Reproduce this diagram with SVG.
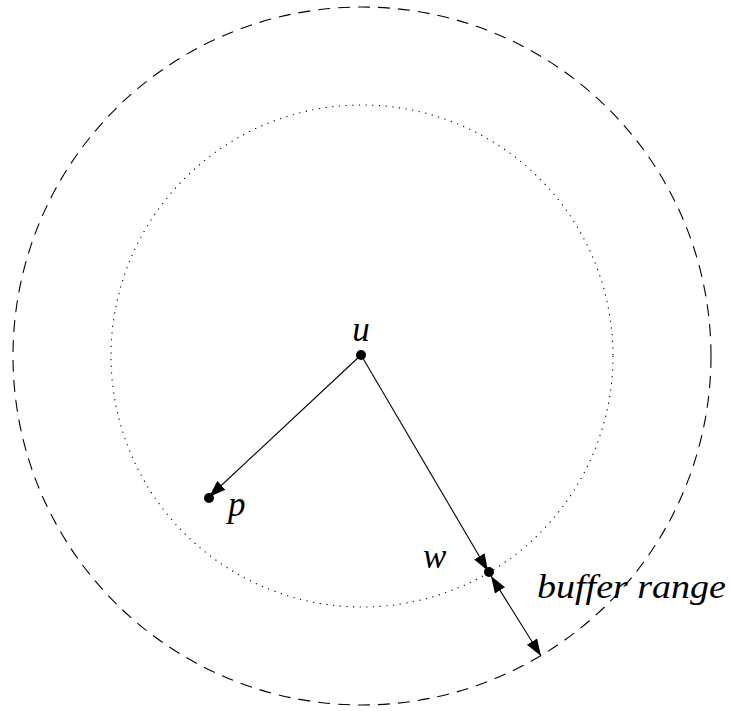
<svg xmlns="http://www.w3.org/2000/svg" width="731" height="711" viewBox="0 0 731 711">
<style>
.lbl{font-family:"Liberation Serif","DejaVu Serif",serif;font-style:italic;fill:#000}
.ln{stroke:#000;stroke-width:1.1;fill:none}
</style>
<defs>
<marker id="ah" markerUnits="userSpaceOnUse" markerWidth="20" markerHeight="16" viewBox="0 0 20 16" refX="17" refY="8" orient="auto-start-reverse">
<path d="M0,2 L17,8 L0,14 Z" fill="#000"/>
</marker>
</defs>
<rect width="731" height="711" fill="#fff"/>
<g id="outer-circle"><circle cx="362" cy="356" r="349" class="ln" stroke-dasharray="12,8"/></g>
<g id="inner-circle"><circle cx="362" cy="356" r="251" class="ln" stroke-dasharray="1.2,5.5"/></g>
<g id="connectors">
<line x1="361" y1="355" x2="209" y2="497" class="ln" marker-end="url(#ah)"/>
<line x1="361" y1="355" x2="488" y2="571" class="ln" marker-end="url(#ah)"/>
<line x1="491" y1="576" x2="541" y2="656" class="ln" marker-start="url(#ah)" marker-end="url(#ah)"/>
</g>
<g id="node-u"><circle cx="361" cy="355" r="5"/><text class="lbl" x="361" y="341" font-size="35" text-anchor="middle">u</text></g>
<g id="node-p"><circle cx="209" cy="498" r="5"/><text class="lbl" x="228" y="516" font-size="35">p</text></g>
<g id="node-w"><circle cx="489" cy="572" r="5"/><text class="lbl" x="423" y="568" font-size="35">w</text></g>
<g id="label-buffer"><text class="lbl" x="537" y="598" font-size="34" textLength="189" lengthAdjust="spacingAndGlyphs">buffer range</text></g>
</svg>
